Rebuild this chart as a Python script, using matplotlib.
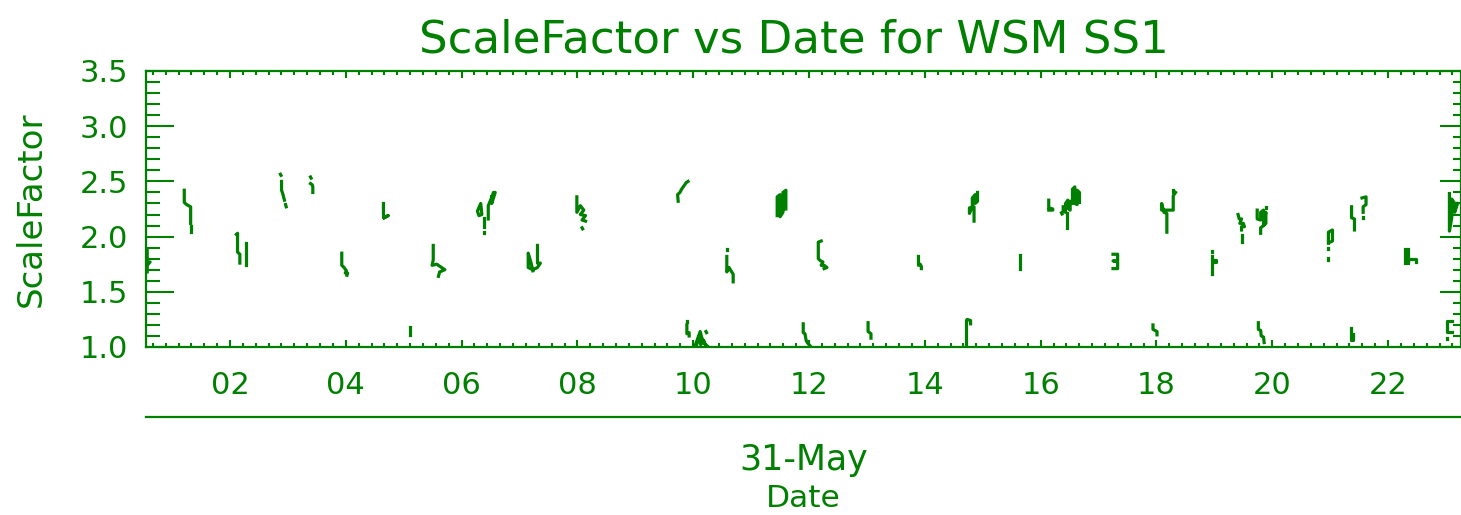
import matplotlib
matplotlib.use("Agg")
import matplotlib.pyplot as plt
from matplotlib.ticker import MultipleLocator, AutoMinorLocator, FuncFormatter

GREEN = "#008000"

title = "ScaleFactor vs Date for WSM SS1"
y_label = "ScaleFactor"
x_label = "Date"
day_label = "31-May"
hour_ticks = [2, 4, 6, 8, 10, 12, 14, 16, 18, 20, 22]
hour_range = (0.549, 23.26)
scale_range = (1.0, 3.5)

# short bursts of samples: hour of day on 31-May, scale factor
burst_hours = [
    [0.57, 0.57, 0.62, 0.57, 0.57],
    [1.21, 1.21, 1.25, 1.32, 1.32],
    [1.32, 1.32],
    [2.11, 2.13, 2.13, 2.17, 2.17],
    [2.28, 2.28],
    [2.87, 2.88],
    [2.89, 2.89, 2.91, 2.93, 2.94],
    [2.96, 2.97],
    [3.39, 3.40],
    [3.39, 3.42, 3.43, 3.43],
    [3.93, 3.93, 3.97, 4.01, 3.99, 4.03, 4.02],
    [4.65, 4.65, 4.66, 4.73, 4.66],
    [5.10, 5.10],
    [5.51, 5.51, 5.49, 5.57, 5.71, 5.62, 5.60],
    [6.28, 6.33, 6.35, 6.30, 6.28],
    [6.39, 6.39],
    [6.39, 6.39],
    [6.46, 6.46, 6.50, 6.55, 6.58, 6.52, 6.52],
    [7.31, 7.31, 7.36, 7.31, 7.23, 7.15, 7.15, 7.20, 7.23],
    [7.99, 7.99, 8.05, 8.11, 8.05, 8.14, 8.08, 8.14],
    [8.08, 8.09],
    [9.74, 9.73, 9.77, 9.80, 9.84, 9.88, 9.91],
    [9.89, 9.89],
    [9.89, 9.89, 9.93, 9.93],
    [10.03, 10.08, 10.12, 10.15, 10.20, 10.26, 10.22, 10.18, 10.13, 10.10, 10.05],
    [10.22, 10.23],
    [10.58, 10.58],
    [10.58, 10.58, 10.62, 10.64, 10.69, 10.69],
    [11.45, 11.45, 11.50, 11.50, 11.55, 11.55, 11.60, 11.60],
    [11.90, 11.90, 11.93, 11.95, 11.97, 12.02],
    [12.21, 12.16, 12.16, 12.20, 12.24, 12.21, 12.26, 12.31, 12.26],
    [13.02, 13.02, 13.07, 13.07],
    [13.89, 13.89, 13.92, 13.94, 13.94],
    [14.72, 14.72, 14.73, 14.79, 14.79],
    [14.85, 14.85, 14.77, 14.77, 14.82, 14.82, 14.87, 14.87, 14.91, 14.91],
    [15.64, 15.64],
    [16.14, 16.14, 16.21, 16.21, 16.14],
    [16.39, 16.39, 16.43, 16.43, 16.47, 16.47, 16.51, 16.51,
     16.55, 16.55, 16.59, 16.59, 16.63, 16.63, 16.67, 16.67],
    [16.46, 16.46],
    [16.36, 16.37],
    [17.25, 17.33, 17.33, 17.25, 17.33, 17.33, 17.25],
    [17.94, 17.94, 18.01, 18.01],
    [18.29, 18.29],
    [18.33, 18.29, 18.29, 18.23, 18.09, 18.09, 18.13, 18.18, 18.18],
    [18.96, 18.96],
    [18.96, 18.96, 19.03, 19.03, 18.96, 18.96],
    [18.96, 18.96],
    [19.41, 19.43, 19.47, 19.44, 19.50, 19.52, 19.47, 19.47],
    [19.47, 19.47],
    [19.76, 19.76, 19.80, 19.81, 19.85, 19.86],
    [19.89, 19.89],
    [19.74, 19.74, 19.80, 19.80, 19.85, 19.85, 19.89, 19.89, 19.85, 19.80, 19.80],
    [20.97, 20.97, 21.04, 21.04, 21.00],
    [20.97, 20.97],
    [20.97, 20.97],
    [21.36, 21.36, 21.40, 21.40],
    [21.37, 21.37, 21.42, 21.42],
    [21.55, 21.62, 21.62, 21.57, 21.57],
    [21.57, 21.57],
    [22.29, 22.29],
    [22.35, 22.35, 22.35, 22.49, 22.49],
    [23.06, 23.06, 23.10, 23.10, 23.15, 23.15, 23.20],
    [23.10, 23.02, 23.02, 23.10],
    [23.02, 23.02],
]
burst_scale = [
    [1.88, 1.77, 1.77, 1.74, 1.68],
    [2.42, 2.31, 2.29, 2.27, 2.12],
    [2.10, 2.04],
    [2.02, 2.03, 1.86, 1.84, 1.76],
    [1.94, 1.74],
    [2.565, 2.555],
    [2.50, 2.42, 2.39, 2.35, 2.33],
    [2.29, 2.27],
    [2.54, 2.53],
    [2.48, 2.47, 2.45, 2.40],
    [1.85, 1.74, 1.72, 1.69, 1.67, 1.67, 1.65],
    [2.30, 2.20, 2.17, 2.19, 2.17],
    [1.18, 1.11],
    [1.92, 1.79, 1.74, 1.75, 1.70, 1.68, 1.64],
    [2.24, 2.30, 2.20, 2.19, 2.22],
    [2.17, 2.09],
    [2.04, 2.03],
    [2.16, 2.28, 2.33, 2.40, 2.40, 2.30, 2.36],
    [1.92, 1.76, 1.76, 1.72, 1.70, 1.72, 1.85, 1.76, 1.69],
    [2.36, 2.22, 2.28, 2.24, 2.20, 2.19, 2.15, 2.14],
    [2.08, 2.07],
    [2.32, 2.38, 2.40, 2.43, 2.46, 2.49, 2.50],
    [1.24, 1.23],
    [1.20, 1.12, 1.13, 1.10],
    [1.01, 1.08, 1.14, 1.08, 1.03, 1.00, 1.00, 1.06, 1.02, 1.10, 1.00],
    [1.14, 1.13],
    [1.89, 1.88],
    [1.82, 1.68, 1.72, 1.70, 1.66, 1.59],
    [2.19, 2.36, 2.38, 2.18, 2.22, 2.40, 2.42, 2.25],
    [1.21, 1.13, 1.12, 1.06, 1.04, 1.01],
    [1.96, 1.95, 1.80, 1.78, 1.77, 1.74, 1.74, 1.72, 1.71],
    [1.22, 1.14, 1.12, 1.08],
    [1.82, 1.74, 1.75, 1.73, 1.71],
    [1.00, 1.24, 1.25, 1.24, 1.21],
    [2.14, 2.27, 2.26, 2.21, 2.27, 2.35, 2.38, 2.30, 2.32, 2.40],
    [1.83, 1.71],
    [2.33, 2.26, 2.25, 2.24, 2.24],
    [2.27, 2.23, 2.22, 2.30, 2.33, 2.26, 2.24, 2.32,
     2.30, 2.43, 2.45, 2.30, 2.29, 2.42, 2.40, 2.31],
    [2.21, 2.08],
    [2.215, 2.205],
    [1.84, 1.84, 1.78, 1.78, 1.77, 1.71, 1.71],
    [1.20, 1.16, 1.14, 1.11],
    [2.42, 2.40],
    [2.40, 2.37, 2.24, 2.24, 2.24, 2.30, 2.22, 2.21, 2.04],
    [1.87, 1.86],
    [1.82, 1.79, 1.79, 1.77, 1.77, 1.71],
    [1.675, 1.665],
    [2.20, 2.16, 2.16, 2.12, 2.12, 2.09, 2.09, 2.06],
    [2.01, 1.95],
    [1.22, 1.16, 1.15, 1.10, 1.09, 1.04],
    [2.27, 2.26],
    [2.24, 2.16, 2.15, 2.22, 2.24, 2.10, 2.12, 2.22, 2.10, 2.08, 2.03],
    [1.94, 2.04, 2.06, 1.96, 1.95],
    [1.90, 1.89],
    [1.81, 1.79],
    [1.17, 1.06, 1.06, 1.12],
    [2.27, 2.17, 2.16, 2.06],
    [2.35, 2.36, 2.29, 2.27, 2.22],
    [2.18, 2.17],
    [1.89, 1.76],
    [1.89, 1.76, 1.80, 1.80, 1.77],
    [2.39, 2.05, 2.17, 2.34, 2.30, 2.22, 2.30],
    [1.24, 1.24, 1.14, 1.14],
    [1.08, 1.07],
]

plt.rcParams["font.family"] = "DejaVu Sans"

fig = plt.figure(figsize=(14.61, 5.15), dpi=100)
ax = fig.add_axes([146 / 1461, 1 - 347 / 515, 1 - 146 / 1461, 276 / 515])

for h, s in zip(burst_hours, burst_scale):
    ax.plot(h, s, color=GREEN, lw=2.3, solid_capstyle="projecting")

ax.set_xlim(*hour_range)
ax.set_ylim(*scale_range)

for sp in ax.spines.values():
    sp.set_color(GREEN)
    sp.set_linewidth(1.6)

# x axis: hours, inward ticks top and bottom
ax.set_xticks(hour_ticks)
ax.xaxis.set_minor_locator(AutoMinorLocator(9))
ax.xaxis.set_major_formatter(FuncFormatter(lambda v, p: f"{int(round(v)):02d}"))
ax.tick_params(axis="x", which="both", direction="in", top=True, colors=GREEN,
               width=1.5, labelsize=22, pad=17)
ax.tick_params(axis="x", which="major", length=5)
ax.tick_params(axis="x", which="minor", length=3)

# y axis
ax.yaxis.set_major_locator(MultipleLocator(0.5))
ax.yaxis.set_minor_locator(MultipleLocator(0.1))
ax.yaxis.set_major_formatter(FuncFormatter(lambda v, p: f"{v:.1f}"))
ax.tick_params(axis="y", which="both", direction="in", colors=GREEN,
               width=1.5, labelsize=22, pad=13)
ax.tick_params(axis="y", which="major", length=20)
ax.tick_params(axis="y", which="minor", length=10)

fig.canvas.draw()
ylabels = ax.get_yticklabels()
ylabels[0].set_verticalalignment("baseline")
ylabels[-1].set_verticalalignment("top")

right = ax.secondary_yaxis("right")
right.yaxis.set_major_locator(MultipleLocator(0.5))
right.yaxis.set_minor_locator(MultipleLocator(0.1))
right.tick_params(which="both", direction="in", colors=GREEN, width=1.5,
                  labelright=False)
right.tick_params(which="major", length=15)
right.tick_params(which="minor", length=5.5)
right.spines["right"].set_color(GREEN)

ax.set_ylabel(y_label, fontsize=24.5, color=GREEN)
ax.yaxis.set_label_coords((48 - 146) / 1315, 0.5)

# second date level below the hours
lower = ax.secondary_xaxis((347 - 417) / 276)
lower.set_xticks([sum(hour_range) / 2])
lower.set_xticklabels([day_label])
lower.tick_params(length=0, colors=GREEN, labelsize=25, pad=19)
lower.spines["bottom"].set_color(GREEN)
lower.spines["bottom"].set_linewidth(1.6)
lower.set_xlabel(x_label, fontsize=22.5, color=GREEN, labelpad=5)

fig.text(793.5 / 1461, 1 - 40 / 515, title, fontsize=32.5, color=GREEN,
         ha="center", va="center")

fig.savefig("out.png", dpi=100)
